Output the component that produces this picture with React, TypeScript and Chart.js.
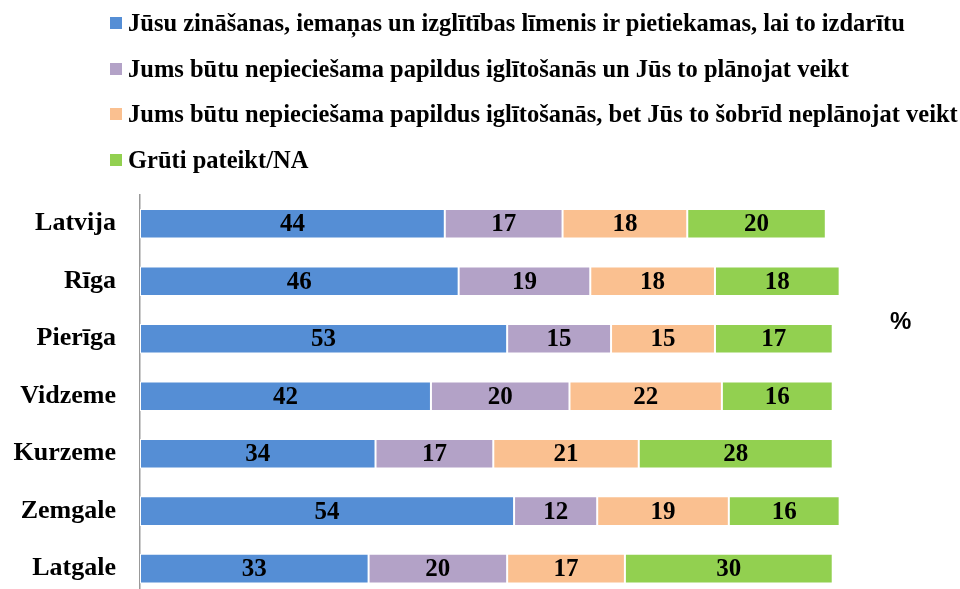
import React, { useEffect, useRef } from "react";
import { Chart, registerables } from "chart.js";

Chart.register(...registerables);

const regions = ["Latvija", "Rīga", "Pierīga", "Vidzeme", "Kurzeme", "Zemgale", "Latgale"];
const seriesNames = [
  "Jūsu zināšanas, iemaņas un izglītības līmenis ir pietiekamas, lai to izdarītu",
  "Jums būtu nepieciešama papildus iglītošanās un Jūs to plānojat veikt",
  "Jums būtu nepieciešama papildus iglītošanās, bet Jūs to šobrīd neplānojat veikt",
  "Grūti pateikt/NA",
];
const colors = ["#558ED5", "#B3A2C7", "#FAC090", "#92D050"];
const sufficient = [44, 46, 53, 42, 34, 54, 33];
const planning = [17, 19, 15, 20, 17, 12, 20];
const notPlanning = [18, 18, 15, 22, 21, 19, 17];
const hardToSay = [20, 18, 17, 16, 28, 16, 30];
const seriesValues = [sufficient, planning, notPlanning, hardToSay];
const unitLabel = "%";

const SERIF = "'Liberation Serif', 'Times New Roman', serif";

const labelPlugin = {
  id: "segLabels",
  afterDatasetsDraw(chart: any) {
    const ctx = chart.ctx;
    ctx.save();
    ctx.font = `bold 25px ${SERIF}`;
    ctx.fillStyle = "#000";
    ctx.textAlign = "center";
    ctx.textBaseline = "middle";
    chart.data.datasets.forEach((ds: any, i: number) => {
      const meta = chart.getDatasetMeta(i);
      meta.data.forEach((el: any, j: number) => {
        const v = ds.data[j];
        const cx = (el.x + el.base) / 2;
        ctx.fillText(String(v), cx, el.y + 1);
      });
    });
    ctx.restore();
  },
};

export default function App() {
  const ref = useRef<HTMLCanvasElement>(null);
  useEffect(() => {
    if (!ref.current) return;
    const chart = new Chart(ref.current, {
      type: "bar",
      data: {
        labels: regions,
        datasets: seriesValues.map((vals, i) => ({
          label: seriesNames[i],
          data: vals,
          backgroundColor: colors[i],
          borderColor: "#ffffff",
          borderWidth: 1,
          borderSkipped: false,
          categoryPercentage: 1,
          barPercentage: 0.515,
        })),
      },
      options: {
        indexAxis: "y",
        animation: false,
        responsive: true,
        maintainAspectRatio: false,
        layout: { padding: { top: 195, bottom: 3, left: 0, right: 58 } },
        plugins: { legend: { display: false }, tooltip: { enabled: false } },
        scales: {
          x: { stacked: true, display: false, min: 0, max: 110 },
          y: {
            stacked: true,
            afterFit: (scale: any) => {
              scale.width = 140;
            },
            grid: { display: false, drawTicks: false },
            border: { display: true, color: "#999999", width: 1.5 },
            ticks: {
              padding: 24,
              color: "#000",
              font: { family: SERIF, size: 26, weight: "bold" },
            },
          },
        },
      },
      plugins: [labelPlugin],
    });
    return () => chart.destroy();
  }, []);

  const legendTops = [23, 69, 114, 160];
  return (
    <div style={{ position: "fixed", left: 0, top: 0, width: 960, height: 589, overflow: "hidden", background: "#fff" }}>
      <div style={{ position: "absolute", left: 0, top: 0, width: 960, height: 637 }}>
        <canvas ref={ref} />
      </div>
      {seriesNames.map((name, i) => (
        <div
          key={i}
          style={{
            position: "absolute",
            left: 110,
            top: legendTops[i] - 15,
            height: 30,
            display: "flex",
            alignItems: "center",
            whiteSpace: "nowrap",
            fontFamily: SERIF,
            fontWeight: "bold",
            fontSize: 24.5,
          }}
        >
          <span style={{ display: "inline-block", width: 12, height: 12, background: colors[i], marginRight: 6 }} />
          <span>{name}</span>
        </div>
      ))}
      <div
        style={{
          position: "absolute",
          left: 890,
          top: 307,
          fontFamily: "'Liberation Sans', Arial, sans-serif",
          fontWeight: "bold",
          fontSize: 24,
        }}
      >
        {unitLabel}
      </div>
    </div>
  );
}
